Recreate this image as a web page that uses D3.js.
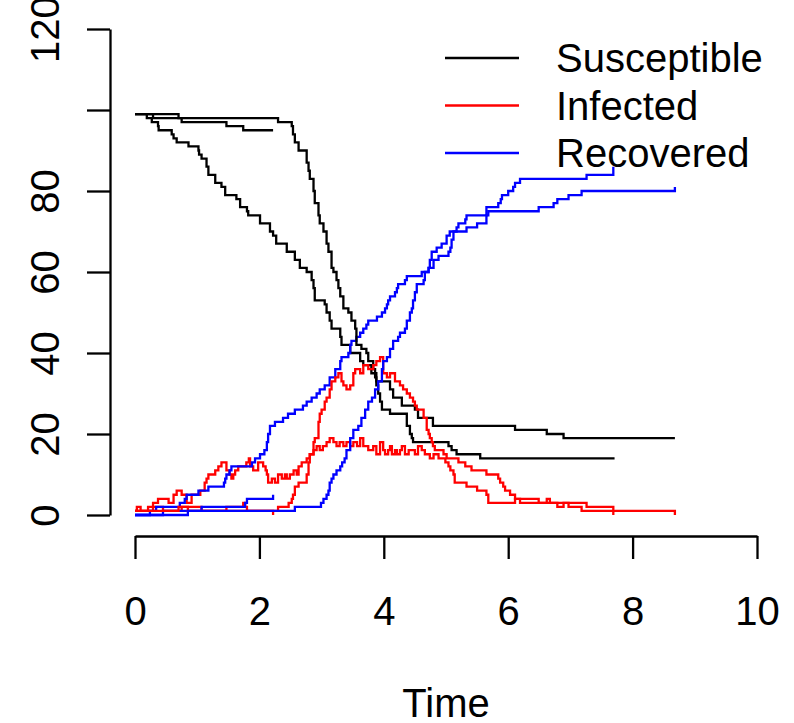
<!DOCTYPE html>
<html>
<head>
<meta charset="utf-8">
<script src="https://cdn.jsdelivr.net/npm/d3@7"></script>
<style>
  body { margin: 0; background: #fff; }
  text { font-family: "Liberation Sans", Arial, sans-serif; }
</style>
</head>
<body>
<script>
// axis ticks and labels
var xTicks = [0, 2, 4, 6, 8, 10];
var yTicks = [0, 20, 40, 60, 80, 100, 120];
var yLabelled = [0, 20, 40, 60, 80, 120];   // R drops the "100" label
var legendLabels = ["Susceptible", "Infected", "Recovered"];
var legendColors = ["black", "red", "blue"];

// run A : dies out early (t ~ 2.2)
var susA = [[0,99],[0.29,98],[0.75,97],[1.47,96],[1.74,95],[2.22,95]];
var infA = [[0,1],[0.29,2],[0.45,1],[0.75,2],[1.07,1],[1.47,2],[1.74,3],[1.77,2],[1.80,1],[2.22,0]];
var recA = [[0,0],[0.45,1],[1.07,2],[1.77,3],[1.80,4],[2.22,5]];

// run B : early, slow epidemic (ends t ~ 8.7)
var susB = [[0,99],[0.19,98],[0.27,97],[0.37,96],[0.38,95],[0.59,94],[0.62,93],[0.67,92],[0.86,91],
  [1.02,90],[1.03,89],[1.07,88],[1.15,86],[1.18,84],[1.29,82],[1.39,81],[1.45,79],[1.63,78],[1.69,76],
  [1.80,75],[1.82,74],[2.01,72],[2.17,70],[2.22,69],[2.27,67],[2.44,65],[2.57,63],[2.65,61],[2.76,60],
  [2.84,58],[2.87,56],[2.89,53],[3.05,52],[3.08,50],[3.13,48],[3.16,46],[3.30,44],[3.32,42],[3.46,40],
  [3.62,38],[3.67,37],[3.80,35],[3.88,33],[4.10,31],[4.15,29],[4.29,27],[4.50,26],[4.55,24],[4.79,22],
  [6.11,21],[6.62,20],[6.89,19],[8.68,19]];
var infB = [[0,1],[0.03,2],[0.09,1],[0.21,2],[0.29,3],[0.37,4],[0.54,3],[0.62,5],[0.67,6],[0.75,5],
  [0.83,3],[0.91,5],[1.05,6],[1.12,8],[1.15,9],[1.18,10],[1.29,11],[1.34,12],[1.39,13],[1.47,11],
  [1.52,10],[1.55,9],[1.58,10],[1.61,11],[1.66,12],[1.79,13],[1.83,14],[1.85,12],[1.90,11],[1.98,13],
  [2.06,12],[2.10,11],[2.12,10],[2.14,8],[2.20,9],[2.25,8],[2.30,10],[2.36,9],[2.41,10],[2.44,9],
  [2.49,10],[2.55,11],[2.60,10],[2.63,12],[2.68,13],[2.76,14],[2.81,15],[2.87,16],[2.92,17],[2.97,16],
  [3.02,17],[3.08,18],[3.13,19],[3.19,18],[3.24,17],[3.29,18],[3.35,17],[3.40,18],[3.46,17],[3.51,18],
  [3.57,17],[3.62,19],[3.67,17],[3.75,16],[3.83,17],[3.88,15],[3.94,18],[3.99,16],[4.02,15],[4.07,16],
  [4.10,17],[4.13,15],[4.18,16],[4.21,15],[4.26,16],[4.29,17],[4.34,15],[4.40,16],[4.50,15],[4.55,17],
  [4.61,16],[4.66,15],[4.74,14],[4.80,15],[4.88,14],[4.99,13],[5.04,12],[5.07,11],[5.12,10],[5.14,8],
  [5.33,7],[5.50,6],[5.65,5],[5.68,3],[6.11,4],[6.49,3],[6.62,4],[6.67,3],[6.79,2],[6.89,3],[6.97,2],
  [7.18,1],[8.68,0]];
var recB = [[0,0],[0.24,1],[0.34,2],[0.72,3],[0.80,4],[0.83,5],[1.02,6],[1.18,7],[1.43,8],[1.45,9],
  [1.47,10],[1.52,11],[1.55,12],[1.88,13],[1.93,14],[2.01,15],[2.08,16],[2.12,18],[2.14,20],[2.17,22],
  [2.25,23],[2.38,24],[2.46,25],[2.57,26],[2.70,27],[2.76,28],[2.84,29],[2.92,30],[2.97,31],[3.05,32],
  [3.13,34],[3.22,36],[3.30,38],[3.32,39],[3.43,40],[3.46,42],[3.48,43],[3.56,44],[3.62,45],[3.67,46],
  [3.72,47],[3.75,48],[3.89,49],[3.97,50],[4.02,51],[4.05,52],[4.07,53],[4.10,54],[4.18,55],[4.21,56],
  [4.23,57],[4.34,58],[4.37,59],[4.61,60],[4.72,61],[4.80,63],[4.88,64],[5.04,65],[5.07,66],[5.09,68],
  [5.12,70],[5.33,71],[5.50,72],[5.65,74],[5.68,75],[6.49,76],[6.73,77],[6.79,78],[6.97,79],[7.18,80],
  [8.68,81]];

// run C : late, fast epidemic (ends t ~ 7.7)
var susC = [[0,99],[0.70,98],[2.30,97],[2.52,96],[2.54,94],[2.57,92],[2.63,90],[2.76,87],[2.79,85],
  [2.81,83],[2.87,80],[2.89,77],[2.95,74],[2.97,72],[3.03,70],[3.08,67],[3.11,65],[3.16,61],[3.19,60],
  [3.24,58],[3.27,56],[3.30,54],[3.35,51],[3.43,50],[3.48,48],[3.54,46],[3.56,42],[3.64,41],[3.72,40],
  [3.75,38],[3.83,36],[3.86,34],[3.88,32],[3.91,30],[3.94,28],[3.97,26],[4.10,25],[4.37,22],[4.42,20],
  [4.45,19],[4.47,18],[5.04,17],[5.09,16],[5.17,15],[5.55,14],[7.71,14]];
var infC = [[0,1],[0.70,2],[0.85,1],[2.30,2],[2.47,3],[2.52,4],[2.54,5],[2.57,7],[2.63,8],[2.76,10],
  [2.79,13],[2.81,15],[2.87,18],[2.89,19],[2.95,23],[2.97,25],[3.00,26],[3.05,28],[3.08,29],[3.13,31],
  [3.16,33],[3.22,34],[3.27,35],[3.32,33],[3.35,32],[3.40,31],[3.46,32],[3.51,35],[3.54,36],[3.62,35],
  [3.67,37],[3.75,36],[3.83,37],[3.88,38],[3.94,39],[3.99,35],[4.05,34],[4.10,35],[4.18,33],[4.26,32],
  [4.31,31],[4.37,30],[4.42,29],[4.47,28],[4.50,27],[4.53,26],[4.64,24],[4.69,21],[4.72,20],[4.74,19],
  [4.77,18],[4.79,17],[4.82,16],[4.96,15],[5.01,14],[5.20,13],[5.31,12],[5.41,11],[5.65,10],[5.84,9],
  [5.87,8],[5.92,7],[5.95,6],[6.03,5],[6.11,4],[6.19,3],[7.26,2],[7.69,0]];
var recC = [[0,0],[0.85,1],[2.57,2],[2.99,3],[3.03,4],[3.08,5],[3.11,6],[3.13,8],[3.16,9],[3.19,10],
  [3.24,11],[3.30,12],[3.33,13],[3.37,14],[3.40,16],[3.46,19],[3.51,21],[3.59,22],[3.64,24],[3.70,26],
  [3.75,28],[3.81,29],[3.86,31],[3.91,33],[3.97,36],[3.99,38],[4.05,39],[4.10,41],[4.15,43],[4.23,44],
  [4.26,45],[4.34,46],[4.37,48],[4.42,50],[4.45,51],[4.47,53],[4.50,55],[4.53,57],[4.64,58],[4.66,60],
  [4.72,61],[4.74,63],[4.77,65],[4.85,66],[4.93,67],[5.01,69],[5.06,70],[5.17,71],[5.20,72],[5.31,73],
  [5.33,74],[5.65,76],[5.84,77],[5.88,78],[5.90,79],[6.00,80],[6.08,81],[6.11,82],[6.19,83],[7.26,84],
  [7.69,86]];

var series = [
  { data: susA, color: "black" }, { data: infA, color: "red" }, { data: recA, color: "blue" },
  { data: susB, color: "black" }, { data: infB, color: "red" }, { data: recB, color: "blue" },
  { data: susC, color: "black" }, { data: infC, color: "red" }, { data: recC, color: "blue" }
];

var svg = d3.select("body").append("svg")
  .attr("width", 794)
  .attr("height", 723);

var x = d3.scaleLinear().domain([0, 10]).range([135, 757]);
var y = d3.scaleLinear().domain([0, 120]).range([515, 29]);

// step lines, like R type = "s"
var line = d3.line()
  .curve(d3.curveStepAfter)
  .x(function (d) { return x(d[0]); })
  .y(function (d) { return y(d[1]); });

svg.selectAll("path.run")
  .data(series)
  .enter().append("path")
  .attr("class", "run")
  .attr("d", function (d) { return line(d.data); })
  .attr("fill", "none")
  .attr("stroke", function (d) { return d.color; })
  .attr("stroke-width", 2.3);

// x axis
var gx = svg.append("g")
  .attr("transform", "translate(0,536)")
  .call(d3.axisBottom(x).tickValues(xTicks).tickSize(23).tickSizeOuter(0).tickPadding(38));

// y axis
var gy = svg.append("g")
  .attr("transform", "translate(110,0)")
  .call(d3.axisLeft(y).tickValues(yTicks).tickSize(23).tickSizeOuter(0)
    .tickFormat(function (d) { return yLabelled.indexOf(d) >= 0 ? d : ""; }));

gy.selectAll("text")
  .attr("x", 0)
  .attr("dy", 0)
  .attr("text-anchor", "middle")
  .attr("transform", "translate(-51.5,0) rotate(-90)");

[gx, gy].forEach(function (g) {
  g.attr("font-size", 40).attr("font-family", "Liberation Sans, Arial, sans-serif");
  g.selectAll("path, line").attr("stroke", "black").attr("stroke-width", 2.3);
  g.selectAll("text").attr("fill", "black");
});

// axis title
svg.append("text")
  .attr("x", 446)
  .attr("y", 717)
  .attr("text-anchor", "middle")
  .attr("font-size", 40)
  .text("Time");

// legend (no box)
var legend = svg.append("g");
legendLabels.forEach(function (lab, i) {
  var ly = 58 + i * 47.5;
  legend.append("line")
    .attr("x1", 445).attr("x2", 519)
    .attr("y1", ly).attr("y2", ly)
    .attr("stroke", legendColors[i])
    .attr("stroke-width", 2.3);
  legend.append("text")
    .attr("x", 556)
    .attr("y", ly + 14)
    .attr("font-size", 40)
    .text(lab);
});
</script>
</body>
</html>
